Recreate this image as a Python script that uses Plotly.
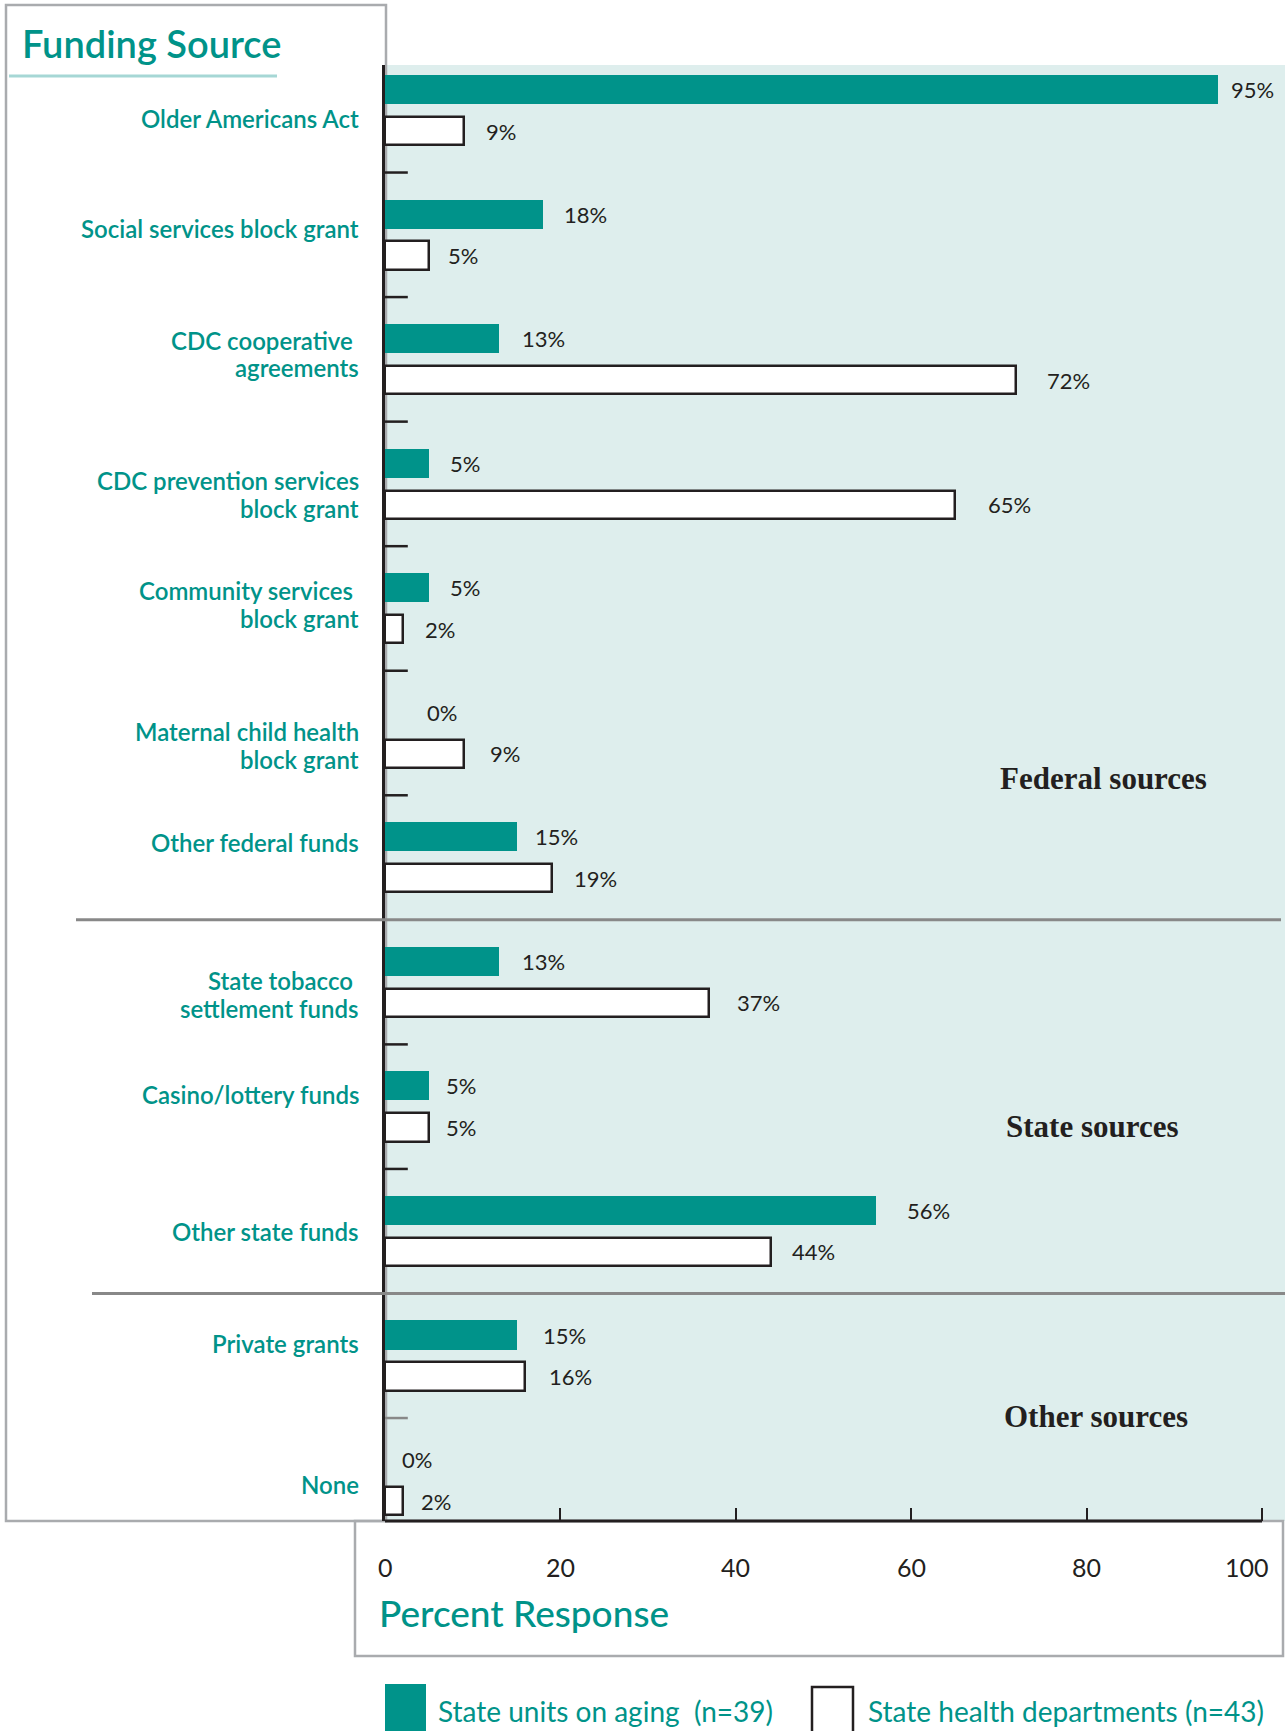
import plotly.graph_objects as go

# ---------------- data ----------------
categories = [
    "Older Americans Act",
    "Social services block grant",
    "CDC cooperative\u00a0<br>agreements",
    "CDC prevention services<br>block grant",
    "Community services\u00a0<br>block grant",
    "Maternal child health<br>block grant",
    "Other federal funds",
    "State tobacco\u00a0<br>settlement funds",
    "Casino/lottery funds",
    "Other state funds",
    "Private grants",
    "None",
]
aging_pct = [95, 18, 13, 5, 5, 0, 15, 13, 5, 56, 15, 0]      # State units on aging (n=39)
health_pct = [9, 5, 72, 65, 2, 9, 19, 37, 5, 44, 16, 2]      # State health departments (n=43)
sections = ["Federal sources", "State sources", "Other sources"]
section_last_index = [6, 9, 11]
x_ticks = [0, 20, 40, 60, 80, 100]
legend_labels = ["State units on aging\u00a0 (n=39)", "State health departments (n=43)"]

# ---------------- style ----------------
W, H = 1285, 1731
ML, MT, MB = 385, 65, 210
PW, PH = W - ML, H - MT - MB
TEAL = "#00938A"
TEAL_TXT = "#009389"
BG = "#DEEEED"
DARK = "#231F20"
BOXGRAY = "#A9ABAE"
LINEGRAY = "#888888"
SANS = "Lato, 'Noto Sans', sans-serif"
SERIF = "'Liberation Serif', 'Times New Roman', serif"

# label placement tweaks (pixels / slot fractions)
label_nudge = [0.69, 0.35, 0.37, 0.75, 0.40, 0.80, 0.13, 0.80, 0.20, 0.50, 0.20, 0.60]
aging_gap = [13, 21, 23, 21, 21, 42, 18, 23, 17, 31, 26, 17]
health_gap = [22, 19, 31, 33, 22, 26, 22, 28, 17, 21, 24, 18]
section_label_pos = [(1103, 778), (1092, 1126), (1096, 1416)]
LINE_STEP = 27.6


def pxx(p):
    return (p - ML) / PW


def pxy(p):
    return (MT + PH - p) / PH


n = len(categories)
y_aging = [3 * i for i in range(n)]
y_health = [3 * i + 1 for i in range(n)]

fig = go.Figure()
fig.add_trace(go.Bar(
    x=aging_pct, y=y_aging, orientation="h", width=0.70,
    marker=dict(color=TEAL, line=dict(width=0)),
    name=legend_labels[0], showlegend=False, hoverinfo="x",
))
fig.add_trace(go.Bar(
    x=health_pct, y=y_health, orientation="h", width=0.68,
    marker=dict(color="white", line=dict(color=DARK, width=2.5)),
    name=legend_labels[1], showlegend=False, hoverinfo="x",
))

annotations = []
shapes = []

# value labels
for vals, ys, gaps in ((aging_pct, y_aging, aging_gap), (health_pct, y_health, health_gap)):
    for v, yy, g in zip(vals, ys, gaps):
        annotations.append(dict(
            x=v, y=yy, xref="x", yref="y", text=f"{v}%", showarrow=False,
            xanchor="left", yanchor="middle", xshift=g - 2,
            font=dict(family=SANS, size=22, color=DARK),
        ))

# category labels (each line placed separately for tighter leading)
for i, (c, nud) in enumerate(zip(categories, label_nudge)):
    lines = c.split("<br>")
    k = len(lines)
    for j, ln in enumerate(lines):
        annotations.append(dict(
            x=pxx(361), y=3 * i + nud, xref="paper", yref="y", text=ln, showarrow=False,
            xanchor="right", yanchor="middle", align="right",
            yshift=-((j - (k - 1) / 2) * LINE_STEP),
            font=dict(family=SANS, size=24, color=TEAL_TXT, weight=600),
        ))

# separators
for i in range(n - 1):
    sy = 3 * i + 2
    if i in section_last_index:
        left = 76 if i == section_last_index[0] else 92
        right = 1281 if i == section_last_index[0] else 1285
        shapes.append(dict(type="line", xref="paper", yref="y", x0=pxx(left), x1=pxx(right),
                           y0=sy, y1=sy, line=dict(color=LINEGRAY, width=3), layer="above"))
    else:
        col = LINEGRAY if i > section_last_index[1] else DARK
        shapes.append(dict(type="line", xref="x", yref="y", x0=0, x1=2.6, y0=sy, y1=sy,
                           line=dict(color=col, width=2.5), layer="above"))

# section labels
for s, (sx, sy) in zip(sections, section_label_pos):
    annotations.append(dict(
        x=pxx(sx), y=pxy(sy), xref="paper", yref="paper", text=s, showarrow=False,
        xanchor="center", yanchor="middle",
        font=dict(family=SERIF, size=31, color=DARK, weight="bold"),
    ))

# x tick labels
for t in x_ticks:
    last = t == x_ticks[-1]
    annotations.append(dict(
        x=t, y=pxy(1567), xref="x", yref="paper", text=str(t), showarrow=False,
        xanchor="right" if last else "center", yanchor="middle", xshift=9 if last else 0,
        font=dict(family=SANS, size=25, color=DARK),
    ))

# left box and bottom box
shapes.append(dict(type="rect", xref="paper", yref="paper", x0=pxx(6), x1=pxx(386),
                   y0=pxy(1521), y1=pxy(5), line=dict(color=BOXGRAY, width=2.5), layer="below"))
shapes.append(dict(type="rect", xref="paper", yref="paper", x0=pxx(355), x1=pxx(1283),
                   y0=pxy(1656), y1=pxy(1521), line=dict(color=BOXGRAY, width=2.5), layer="below"))
# title underline
shapes.append(dict(type="line", xref="paper", yref="paper", x0=pxx(9), x1=pxx(277),
                   y0=pxy(76), y1=pxy(76), line=dict(color="#A6D7D5", width=3)))
# x axis line
shapes.append(dict(type="line", xref="x", yref="paper", x0=0, x1=100, y0=0, y1=0,
                   line=dict(color=DARK, width=3), layer="above"))

# title & axis title
annotations.append(dict(x=pxx(20), y=pxy(43), xref="paper", yref="paper", text="Funding Source",
                        showarrow=False, xanchor="left", yanchor="middle",
                        font=dict(family=SANS, size=38, color=TEAL_TXT, weight=600)))
annotations.append(dict(x=pxx(377), y=pxy(1612), xref="paper", yref="paper", text="Percent Response",
                        showarrow=False, xanchor="left", yanchor="middle",
                        font=dict(family=SANS, size=37, color=TEAL_TXT, weight=500)))

# legend
shapes.append(dict(type="rect", xref="paper", yref="paper", x0=pxx(385), x1=pxx(426),
                   y0=pxy(1740), y1=pxy(1684), fillcolor=TEAL, line=dict(width=0)))
shapes.append(dict(type="rect", xref="paper", yref="paper", x0=pxx(812), x1=pxx(853),
                   y0=pxy(1745), y1=pxy(1687), fillcolor="white", line=dict(color=DARK, width=2.5)))
annotations.append(dict(x=pxx(436), y=pxy(1711), xref="paper", yref="paper", text=legend_labels[0],
                        showarrow=False, xanchor="left", yanchor="middle",
                        font=dict(family=SANS, size=28, color=TEAL_TXT)))
annotations.append(dict(x=pxx(866), y=pxy(1711), xref="paper", yref="paper", text=legend_labels[1],
                        showarrow=False, xanchor="left", yanchor="middle",
                        font=dict(family=SANS, size=28, color=TEAL_TXT)))

fig.update_layout(
    width=W, height=H,
    margin=dict(l=ML, r=0, t=MT, b=MB, pad=0),
    paper_bgcolor="white", plot_bgcolor=BG,
    showlegend=False, bargap=0,
    annotations=annotations, shapes=shapes,
    xaxis=dict(range=[0, 100 * PW / 877], tickvals=x_ticks, ticks="inside", ticklen=13,
               tickwidth=2, tickcolor=DARK, showgrid=False, zeroline=False, showline=False,
               showticklabels=False, fixedrange=True),
    yaxis=dict(range=[34.48, -0.59], showticklabels=False, ticks="", showgrid=False,
               zeroline=False, showline=True, linecolor=DARK, linewidth=2.5, fixedrange=True),
)

fig.write_html("out.html")
